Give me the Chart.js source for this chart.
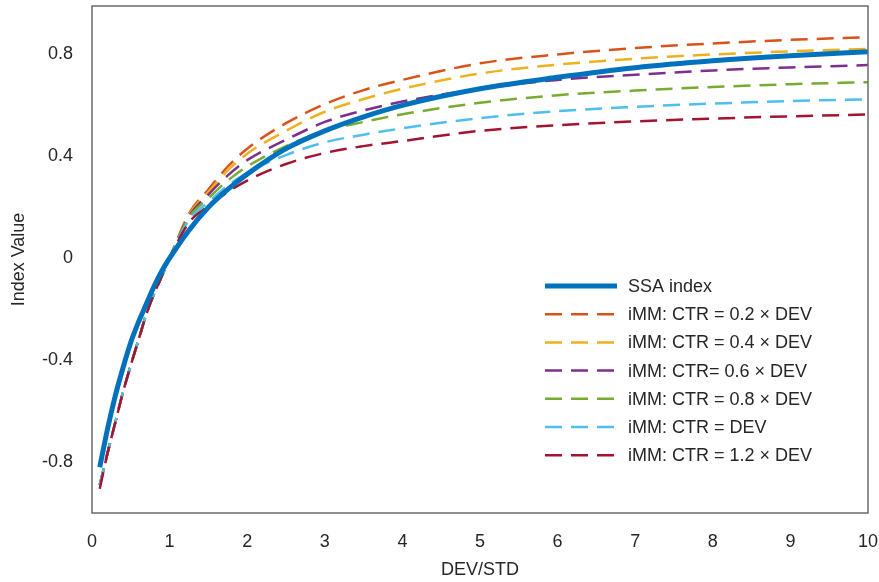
<!DOCTYPE html>
<html>
<head>
<meta charset="utf-8">
<script src="https://cdn.jsdelivr.net/npm/chart.js@4.4.0/dist/chart.umd.min.js"></script>
<style>
  body { margin: 0; background: #fff; }
  #wrap { width: 879px; height: 582px; }
</style>
</head>
<body>
<div id="wrap"><canvas id="chart" width="879" height="582"></canvas></div>
<script>
// values
const devStd = [0.1, 0.2, 0.3, 0.4, 0.5, 0.6, 0.7, 0.8, 0.9, 1, 1.25, 1.5, 1.75, 2, 2.5, 3, 3.5, 4, 5, 6, 7, 8, 9, 10];
const ssaIndex = [-0.82, -0.67, -0.54, -0.43, -0.33, -0.25, -0.18, -0.11, -0.05, 0, 0.11, 0.20, 0.27, 0.33, 0.43, 0.50, 0.555, 0.60, 0.665, 0.71, 0.748, 0.775, 0.795, 0.81];
const ctr02 = [-0.89, -0.765, -0.645, -0.525, -0.42, -0.32, -0.22, -0.14, -0.07, 0, 0.175, 0.27, 0.36, 0.43, 0.53, 0.605, 0.66, 0.70, 0.765, 0.80, 0.825, 0.843, 0.857, 0.868];
const ctr04 = [-0.89, -0.765, -0.645, -0.525, -0.42, -0.32, -0.22, -0.14, -0.07, 0, 0.17, 0.26, 0.345, 0.41, 0.50, 0.575, 0.625, 0.665, 0.725, 0.76, 0.783, 0.80, 0.812, 0.822];
const ctr06 = [-0.89, -0.765, -0.645, -0.525, -0.42, -0.32, -0.22, -0.14, -0.07, 0, 0.165, 0.25, 0.325, 0.385, 0.465, 0.535, 0.58, 0.615, 0.665, 0.70, 0.72, 0.737, 0.749, 0.758];
const ctr08 = [-0.89, -0.765, -0.645, -0.525, -0.42, -0.32, -0.22, -0.14, -0.07, 0, 0.16, 0.235, 0.305, 0.36, 0.44, 0.50, 0.535, 0.565, 0.61, 0.64, 0.658, 0.672, 0.683, 0.691];
const ctr10 = [-0.89, -0.765, -0.645, -0.525, -0.42, -0.32, -0.22, -0.14, -0.07, 0, 0.15, 0.22, 0.285, 0.335, 0.405, 0.455, 0.485, 0.51, 0.55, 0.577, 0.594, 0.607, 0.617, 0.624];
const ctr12 = [-0.905, -0.765, -0.645, -0.525, -0.42, -0.32, -0.22, -0.14, -0.07, 0, 0.14, 0.205, 0.26, 0.305, 0.37, 0.413, 0.44, 0.46, 0.50, 0.522, 0.537, 0.548, 0.557, 0.564];
const yTicks = [-0.8, -0.4, 0, 0.4, 0.8];
const seriesLabels = [
    'SSA index',
    'iMM: CTR = 0.2 \u00d7 DEV',
    'iMM: CTR = 0.4 \u00d7 DEV',
    'iMM: CTR= 0.6 \u00d7 DEV',
    'iMM: CTR = 0.8 \u00d7 DEV',
    'iMM: CTR = DEV',
    'iMM: CTR = 1.2 \u00d7 DEV'
];

const FONT = '"Liberation Sans", Arial, Helvetica, sans-serif';
const TEXT_COLOR = '#262626';
const dashColors = ['#D95319', '#EDB120', '#7E2F8E', '#77AC30', '#4DBEEE', '#A2142F'];

function toPoints(values) {
    return values.map((v, i) => ({ x: devStd[i], y: v }));
}

// blue on top, then the later dashed series over the earlier ones
const datasets = [{
    label: seriesLabels[0],
    data: toPoints(ssaIndex),
    borderColor: '#0072BD',
    borderWidth: 5,
    borderDash: [],
    order: 0
}];
[ctr02, ctr04, ctr06, ctr08, ctr10, ctr12].forEach((series, i) => {
    datasets.push({
        label: seriesLabels[i + 1],
        data: toPoints(series),
        borderColor: dashColors[i],
        borderWidth: 2.5,
        borderDash: [17, 9],
        order: 6 - i
    });
});

// box around the plot area
const boxPlugin = {
    id: 'box',
    afterDraw(chart) {
        const { ctx, chartArea: a } = chart;
        ctx.save();
        ctx.strokeStyle = '#6b6b6b';
        ctx.lineWidth = 1.5;
        ctx.strokeRect(a.left, a.top, a.right - a.left, a.bottom - a.top);
        ctx.restore();
    }
};

// legend drawn inside the plot area
const legendPlugin = {
    id: 'innerLegend',
    afterDraw(chart) {
        const ctx = chart.ctx;
        const x0 = 545, x1 = 617, tx = 628, y0 = 286, step = 28.2;
        ctx.save();
        ctx.font = '18px ' + FONT;
        ctx.textBaseline = 'middle';
        chart.data.datasets.forEach((ds, i) => {
            const y = y0 + i * step;
            ctx.strokeStyle = ds.borderColor;
            ctx.lineWidth = ds.borderWidth;
            ctx.setLineDash(ds.borderDash);
            ctx.beginPath();
            ctx.moveTo(x0, y);
            ctx.lineTo(x1, y);
            ctx.stroke();
            ctx.setLineDash([]);
            ctx.fillStyle = TEXT_COLOR;
            ctx.fillText(ds.label, tx, y + 1);
        });
        ctx.restore();
    }
};

function noPad(scale) {
    scale.paddingTop = 0;
    scale.paddingBottom = 0;
    scale.paddingLeft = 0;
    scale.paddingRight = 0;
}

new Chart(document.getElementById('chart'), {
    type: 'line',
    data: { datasets: datasets },
    options: {
        responsive: false,
        animation: false,
        layout: { padding: { left: 0, right: 11, top: 6, bottom: 0 } },
        elements: {
            point: { radius: 0 },
            line: { cubicInterpolationMode: 'monotone', borderCapStyle: 'butt' }
        },
        plugins: {
            legend: { display: false },
            tooltip: { enabled: false }
        },
        scales: {
            x: {
                type: 'linear',
                min: 0,
                max: 10,
                grid: { display: false, drawTicks: false },
                border: { display: false },
                ticks: {
                    stepSize: 1,
                    padding: 18,
                    maxRotation: 0,
                    color: TEXT_COLOR,
                    font: { family: FONT, size: 18 }
                },
                title: {
                    display: true,
                    text: 'DEV/STD',
                    color: TEXT_COLOR,
                    font: { family: FONT, size: 18 },
                    padding: { top: 0, bottom: 1 }
                },
                afterFit(scale) { scale.height = 69; noPad(scale); }
            },
            y: {
                min: -1,
                max: 0.99,
                grid: { display: false, drawTicks: false },
                border: { display: false },
                afterBuildTicks(scale) {
                    scale.ticks = yTicks.map(v => ({ value: v }));
                },
                ticks: {
                    padding: 19,
                    color: TEXT_COLOR,
                    font: { family: FONT, size: 18 },
                    callback: v => (v === 0 ? '0' : v.toFixed(1))
                },
                title: {
                    display: true,
                    text: 'Index Value',
                    color: TEXT_COLOR,
                    font: { family: FONT, size: 18 },
                    padding: { top: 8, bottom: 0 }
                },
                afterFit(scale) { scale.width = 92; noPad(scale); }
            }
        }
    },
    plugins: [boxPlugin, legendPlugin]
});
</script>
</body>
</html>
